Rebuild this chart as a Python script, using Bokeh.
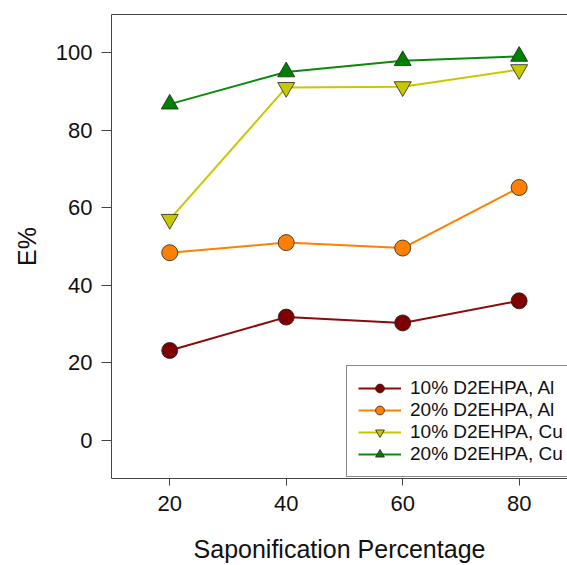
from bokeh.plotting import figure
from bokeh.models import LinearAxis, FixedTicker, Range1d, Legend, LegendItem
from bokeh.embed import file_html
from bokeh.resources import INLINE

saponification = [20, 40, 60, 80]
al_10 = [23.2, 31.8, 30.3, 36.0]
al_20 = [48.4, 51.0, 49.6, 65.2]
cu_10 = [57.0, 91.0, 91.2, 95.6]
cu_20 = [86.7, 95.0, 97.9, 99.0]

series = [
    ("10% D2EHPA, Al", al_10, "circle", "#7F0000", "#8B0A0A", 16),
    ("20% D2EHPA, Al", al_20, "circle", "#FF8000", "#FF8000", 16),
    ("10% D2EHPA, Cu", cu_10, "inverted_triangle", "#C8C800", "#C8C800", 17),
    ("20% D2EHPA, Cu", cu_20, "triangle", "#008000", "#0A8A0A", 17),
]

FONT = "Liberation Sans"
AXC = "#444444"

p = figure(width=567, height=565, output_backend="svg", toolbar_location=None,
           x_range=Range1d(10.0, 88.3), y_range=Range1d(-9.8, 109.8),
           min_border_left=111, min_border_right=0, min_border_top=14,
           min_border_bottom=87, background_fill_color="white",
           border_fill_color="white")
p.outline_line_color = None
p.xgrid.visible = False
p.ygrid.visible = False

items = []
for label, vals, marker, fill, linec, sz in series:
    r1 = p.line(saponification, vals, line_color=linec, line_width=2)
    r2 = p.scatter(saponification, vals, marker=marker, size=sz, fill_color=fill,
                   line_color="#222222", line_width=0.8)
    items.append(LegendItem(label=label, renderers=[r1, r2]))

for ax in (p.xaxis[0], p.yaxis[0]):
    ax.axis_line_color = AXC
    ax.major_tick_line_color = AXC
    ax.minor_tick_line_color = None
    ax.major_tick_in = 0
    ax.major_label_text_font = FONT
    ax.major_label_text_font_size = "22px"
    ax.major_label_text_color = "#111111"
    ax.axis_label_text_font = FONT
    ax.axis_label_text_font_size = "25px"
    ax.axis_label_text_font_style = "normal"
    ax.axis_label_text_color = "#111111"

p.xaxis.ticker = FixedTicker(ticks=saponification)
p.yaxis.ticker = FixedTicker(ticks=[0, 20, 40, 60, 80, 100])
p.xaxis.axis_label = "Saponification Percentage"
p.yaxis.axis_label = "E%"
p.xaxis.major_tick_out = 7
p.yaxis.major_tick_out = 10
p.xaxis.major_label_standoff = 10
p.xaxis.axis_label_standoff = 21
p.yaxis.major_label_standoff = 9
p.yaxis.axis_label_standoff = 12

top = LinearAxis(ticker=FixedTicker(ticks=[]), axis_line_color=AXC,
                 major_label_text_font_size="0px", major_tick_line_color=None,
                 minor_tick_line_color=None)
p.add_layout(top, "above")

legend = Legend(items=items, location=(235, 1), label_text_font=FONT,
                label_text_font_size="19px", label_text_color="#111111",
                glyph_width=43, glyph_height=22, label_height=22,
                label_standoff=9, spacing=0, padding=11, margin=0,
                border_line_color="#111111", border_line_width=1.2,
                background_fill_alpha=1.0)
p.add_layout(legend, "center")

open("out.html", "w").write(file_html(p, INLINE))
